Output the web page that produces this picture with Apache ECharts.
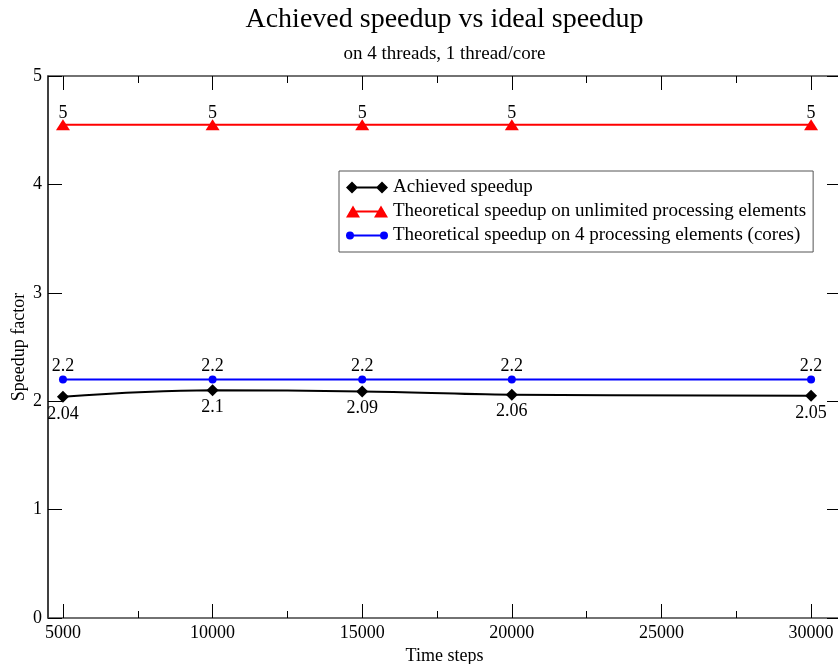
<!DOCTYPE html>
<html><head><meta charset="utf-8">
<script src="https://cdn.jsdelivr.net/npm/echarts@6/dist/echarts.min.js"></script>
<style>html,body{margin:0;padding:0;background:#fff}#c{width:838px;height:664px}</style>
</head><body><div id="c"></div>
<script>
const timeSteps = [5000, 10000, 15000, 20000, 30000];
const achieved = [2.04, 2.1, 2.09, 2.06, 2.05];
const unlimited = [4.55, 4.55, 4.55, 4.55, 4.55];
const fourCores = [2.2, 2.2, 2.2, 2.2, 2.2];
const xMajorTicks = [5000, 10000, 15000, 20000, 25000, 30000];
const xMinorTicks = [7500, 12500, 17500, 22500, 27500];
const seriesNames = ['Achieved speedup', 'Theoretical speedup on unlimited processing elements', 'Theoretical speedup on 4 processing elements (cores)'];

const FONT = 'Liberation Serif';
const chart = echarts.init(document.getElementById('c'), null, {renderer: 'canvas'});
const pair = (xs, ys) => xs.map((x, i) => [x, ys[i]]);
const frame = '#444';
const GL = 48, GR = -3, GT = 76, GB = 46;
const XMIN = 4500, XMAX = 31000;

const diamondIcon = 'path://M0 6L6 0L12 6L6 12ZM6 5L36 5L36 7L6 7ZM30 6L36 0L42 6L36 12Z';
const triIcon = 'path://M0 12L7 0L14 12ZM7 5L35 5L35 7L7 7ZM28 12L35 0L42 12Z';
const circIcon = 'path://M0 6A4 4 0 1 1 8 6A4 4 0 1 1 0 6ZM4 5L38 5L38 7L4 7ZM34 6A4 4 0 1 1 42 6A4 4 0 1 1 34 6Z';

function xAx(pos, ticks, len, showLine, showLabel) {
  return {
    type: 'value', position: pos, min: XMIN, max: XMAX,
    axisLine: {show: showLine, onZero: false, lineStyle: {color: frame, width: 1.5}},
    axisTick: {show: true, inside: true, length: len, customValues: ticks, lineStyle: {color: '#000', width: 1}},
    axisLabel: showLabel ? {show: true, customValues: xMajorTicks, formatter: v => String(v), fontFamily: FONT, fontSize: 18, color: '#000', margin: 6} : {show: false},
    splitLine: {show: false},
    name: showLabel ? 'Time steps' : '', nameLocation: 'middle', nameGap: 25,
    nameTextStyle: {fontFamily: FONT, fontSize: 18, color: '#000'}
  };
}
function yAx(pos, showLabel) {
  return {
    type: 'value', position: pos, min: 0, max: 5, interval: 1,
    axisLine: {show: true, onZero: false, lineStyle: {color: showLabel ? '#000' : frame, width: 1.5}},
    axisTick: {show: true, inside: true, length: 14, lineStyle: {color: '#000', width: 1}},
    axisLabel: showLabel ? {show: true, fontFamily: FONT, fontSize: 18, color: '#000', margin: 6} : {show: false},
    splitLine: {show: false},
    name: showLabel ? 'Speedup factor' : '', nameLocation: 'middle', nameGap: 20, nameMoveOverlap: false,
    nameTextStyle: {fontFamily: FONT, fontSize: 18, color: '#000'}
  };
}
const lbl = (pos, dec, dist) => ({
  show: true, position: pos, distance: dist,
  fontFamily: FONT, fontSize: 18, color: '#000',
  formatter: p => dec === null ? String(p.value[1]) : p.value[1].toFixed(dec)
});

chart.setOption({
  animation: false,
  backgroundColor: '#fff',
  grid: {left: GL, right: GR, top: GT, bottom: GB, containLabel: false, outerBoundsMode: 'none'},
  graphic: [
    {type: 'text', x: 444.5, y: 20, style: {text: 'Achieved speedup vs ideal speedup', font: '28px "Liberation Serif"', fill: '#000', align: 'center', verticalAlign: 'middle'}},
    {type: 'text', x: 444.5, y: 54, style: {text: 'on 4 threads, 1 thread/core', font: '19px "Liberation Serif"', fill: '#000', align: 'center', verticalAlign: 'middle'}}
  ],
  legend: {
    orient: 'vertical', left: 339, top: 171,
    padding: [7, 7, 7, 7], itemGap: 5, itemWidth: 42, itemHeight: 12,
    borderColor: '#555', borderWidth: 1, backgroundColor: '#fff',
    textStyle: {fontFamily: FONT, fontSize: 19, color: '#000'},
    data: [
      {name: seriesNames[0], icon: diamondIcon},
      {name: seriesNames[1], icon: triIcon},
      {name: seriesNames[2], icon: circIcon}
    ]
  },
  xAxis: [
    xAx('bottom', xMajorTicks, 14, true, true),
    xAx('bottom', xMinorTicks, 7, false, false),
    xAx('top', xMajorTicks, 14, true, false),
    xAx('top', xMinorTicks, 7, false, false)
  ],
  yAxis: [yAx('left', true), yAx('right', false)],
  series: [
    {name: seriesNames[1], type: 'line', data: pair(timeSteps, unlimited), color: '#ff0000',
     symbol: 'triangle', symbolSize: [14, 11], lineStyle: {width: 2},
     label: lbl('top', 0, -3)},
    {name: seriesNames[2], type: 'line', data: pair(timeSteps, fourCores), color: '#0000ff',
     symbol: 'circle', symbolSize: 8, lineStyle: {width: 2},
     label: lbl('top', null, 0)},
    {name: seriesNames[0], type: 'line', data: pair(timeSteps, achieved), color: '#000000',
     symbol: 'diamond', symbolSize: 12, smooth: 0.4, lineStyle: {width: 2},
     label: lbl('bottom', null, 2), z: 3}
  ]
});
</script></body></html>
